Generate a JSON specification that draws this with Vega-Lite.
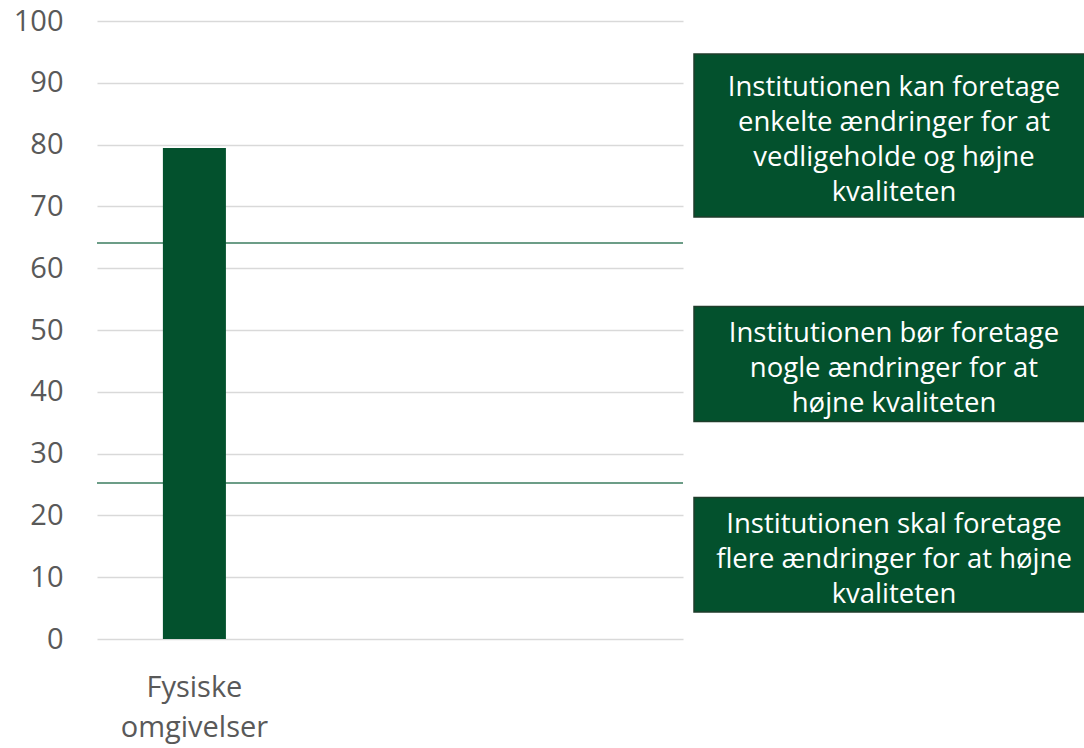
{
  "$schema": "https://vega.github.io/schema/vega-lite/v6.json",
  "padding": {"left": 13, "top": 7, "right": 0, "bottom": 12},
  "spacing": 9,
  "config": {
    "view": {"stroke": null},
    "font": "Open Sans",
    "axis": {"labelFont": "Open Sans", "labelColor": "#595959"}
  },
  "datasets": {
    "score": [{"kategori": "Fysiske omgivelser", "score": 79.44}],
    "graenser": [{"graense": 64.06}, {"graense": 25.26}],
    "bokse": [
      {"fra": 68.27, "til": 94.66, "tekst": "Institutionen kan foretage\nenkelte ændringer for at\nvedligeholde og højne\nkvaliteten"},
      {"fra": 35.2, "til": 53.8, "tekst": "Institutionen bør foretage\nnogle ændringer for at\nhøjne kvaliteten"},
      {"fra": 4.37, "til": 22.9, "tekst": "Institutionen skal foretage\nflere ændringer for at højne\nkvaliteten"}
    ]
  },
  "hconcat": [
    {
      "width": 586,
      "height": 618,
      "layer": [
        {
          "data": {"name": "graenser"},
          "mark": {"type": "rule", "color": "#3b7d5f", "strokeWidth": 1.5},
          "encoding": {
            "y": {"field": "graense", "type": "quantitative", "scale": {"domain": [0, 100]}}
          }
        },
        {
          "data": {"name": "score"},
          "mark": {"type": "bar", "color": "#03512d"},
          "encoding": {
            "x": {
              "field": "kategori",
              "type": "nominal",
              "scale": {"paddingInner": 0.759, "paddingOuter": 1, "align": 0.126},
              "axis": {
                "title": null,
                "domain": false,
                "ticks": false,
                "labelAngle": 0,
                "labelFontSize": 29,
                "labelLineHeight": 40,
                "labelPadding": 34,
                "labelExpr": "split(datum.label, ' ')"
              }
            },
            "y": {
              "field": "score",
              "type": "quantitative",
              "scale": {"domain": [0, 100]},
              "axis": {
                "title": null,
                "values": [0, 10, 20, 30, 40, 50, 60, 70, 80, 90, 100],
                "domain": false,
                "ticks": false,
                "labelFontSize": 29,
                "labelPadding": 34,
                "gridColor": "#d9d9d9",
                "gridWidth": 1.5
              }
            }
          }
        }
      ],
      "resolve": {"scale": {"y": "shared"}}
    },
    {
      "width": 392,
      "height": 618,
      "data": {"name": "bokse"},
      "transform": [
        {"calculate": "(datum.fra + datum.til) / 2", "as": "midt"},
        {"calculate": "length(split(datum.tekst, '\\n'))", "as": "linjer"}
      ],
      "layer": [
        {
          "mark": {"type": "rect", "color": "#03512d", "stroke": "#1f3d2b", "strokeWidth": 1.5},
          "encoding": {
            "y": {"field": "fra", "type": "quantitative", "scale": {"domain": [0, 100]}, "axis": null},
            "y2": {"field": "til"}
          }
        },
        {
          "transform": [{"filter": "datum.linjer == 4"}],
          "mark": {
            "type": "text",
            "color": "white",
            "font": "Open Sans",
            "fontSize": 27.5,
            "lineHeight": 35,
            "lineBreak": "\n",
            "align": "center",
            "baseline": "middle",
            "dx": 4,
            "dy": -48
          },
          "encoding": {
            "y": {"field": "midt", "type": "quantitative", "scale": {"domain": [0, 100]}, "axis": null},
            "text": {"field": "tekst"}
          }
        },
        {
          "transform": [{"filter": "datum.linjer == 3"}],
          "mark": {
            "type": "text",
            "color": "white",
            "font": "Open Sans",
            "fontSize": 27.5,
            "lineHeight": 35,
            "lineBreak": "\n",
            "align": "center",
            "baseline": "middle",
            "dx": 4,
            "dy": -30
          },
          "encoding": {
            "y": {"field": "midt", "type": "quantitative", "scale": {"domain": [0, 100]}, "axis": null},
            "text": {"field": "tekst"}
          }
        }
      ]
    }
  ]
}
